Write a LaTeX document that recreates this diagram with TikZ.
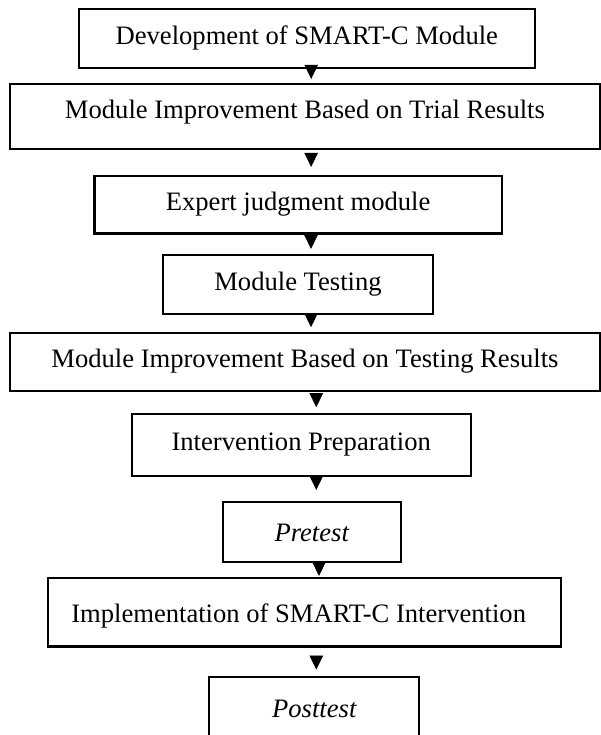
\documentclass[tikz,border=0pt]{standalone}
\usepackage{fontspec}
\setmainfont{Liberation Serif}
\usetikzlibrary{arrows.meta}
\begin{document}
\begin{tikzpicture}[x=1pt,y=-1pt,
  box/.style={draw, line width=2.2pt, rectangle, inner sep=0pt, text depth=0pt,
    font=\fontsize{26.6pt}{32pt}\selectfont},
  flowarrow/.style={line width=0.6pt, -{Triangle[length=14pt,width=13.5pt]}}]
\useasboundingbox (0,0) rectangle (601,735);

\node[box, minimum width=456.3pt, minimum height=59pt, text height=12.4pt] (B1) at (306.85,38.8) {Development of SMART-C Module};
\node[box, minimum width=589.9pt, minimum height=65.6pt, text height=4.7pt] (B2) at (304.95,116.5) {Module Improvement Based on Trial Results};
\node[box, minimum width=407.2pt, minimum height=57.2pt, text height=11.2pt] (B3) at (298.1,204.9) {Expert judgment module};
\node[box, minimum width=270.6pt, minimum height=58.7pt, text height=10.7pt] (B4) at (298,284.65) {Module Testing};
\node[box, minimum width=589.9pt, minimum height=58.7pt, text height=11.1pt] (B5) at (304.95,361.95) {Module Improvement Based on Testing Results};
\node[box, minimum width=339pt, minimum height=61.6pt, text height=10pt] (B6) at (301.2,445) {Intervention Preparation};
\node[box, minimum width=178pt, minimum height=60pt, text height=18.6pt] (B7) at (311.7,531.7) {\itshape Pretest};
\node[box, minimum width=512.7pt, minimum height=68.2pt, text height=19.2pt] (B8) at (304.65,612.4) {Implementation of SMART-C Intervention\hspace*{12pt}};
\node[box, minimum width=210pt, minimum height=64pt, text height=16.6pt] (B9) at (314.3,708.7) {\itshape Posttest};

\draw[flowarrow, shorten >=3.7pt] ([xshift=4.35pt]B1.south) -- ([xshift=4.35pt]B1.south |- B2.north);
\draw[flowarrow, shorten <=4.2pt, shorten >=8.3pt] ([xshift=6.2pt]B2.south) -- ([xshift=6.2pt]B2.south |- B3.north);
\draw[flowarrow, shorten <=1pt, shorten >=5.3pt] ([xshift=12.9pt]B3.south) -- ([xshift=12.9pt]B3.south |- B4.north);
\draw[flowarrow, shorten >=4.3pt] ([xshift=13pt]B4.south) -- ([xshift=13pt]B4.south |- B5.north);
\draw[flowarrow, shorten <=2.5pt, shorten >=5.9pt] ([xshift=11.3pt]B5.south) -- ([xshift=11.3pt]B5.south |- B6.north);
\draw[flowarrow, shorten <=0.7pt, shorten >=10.7pt] ([xshift=15.1pt]B6.south) -- ([xshift=15.1pt]B6.south |- B7.north);
\draw[flowarrow, shorten <=0.8pt, shorten >=1.3pt] ([xshift=7.3pt]B7.south) -- ([xshift=7.3pt]B7.south |- B8.north);
\draw[flowarrow, shorten <=9.7pt, shorten >=6pt] ([xshift=11.65pt]B8.south) -- ([xshift=11.65pt]B8.south |- B9.north);
\end{tikzpicture}
\end{document}
